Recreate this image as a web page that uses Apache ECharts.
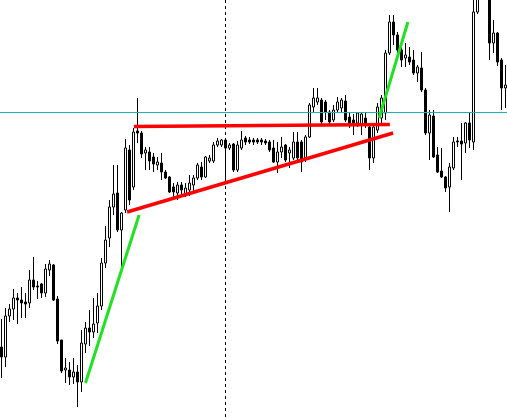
<!DOCTYPE html>
<html>
<head>
<meta charset="utf-8">
<script src="https://cdn.jsdelivr.net/npm/echarts@6/dist/echarts.min.js"></script>
<style>html,body{margin:0;padding:0;background:#fff}#c{width:507px;height:418px}</style>
</head>
<body>
<div id="c"></div>
<script>
// Price levels measured in points below the chart's top reference level (axis is inverted:
// smaller number = higher price). "highs" are the top of the wick, "lows" the bottom.
const opens  = [347,357,316,309,298,300,302,303,280,286,284,293,270,265,299,340,370,370,377,372,
                382,344,328,332,323,306,263,238,207,193,230,210,150,187,131,133,153,152,157,165,
                163,172,177,187,193,185,194,190,185,178,167,177,161,161,145,145,140,148,144,170,
                148,138,140,140,140,140,141,142,148,162,152,145,153,158,142,142,158,137,107,102,
                100,102,112,120,110,108,101,117,120,123,124,118,127,158,130,118,113,53,22,35,
                50,58,57,60,73,68,90,133,116,155,171,177,187,168,141,141,143,123,142,12,
                -20,-50,-15,43,33,60,88];
const closes = [357,316,309,298,300,303,304,280,287,287,293,269,264,300,341,371,368,377,372,382,
                343,328,332,324,306,263,240,207,194,230,213,148,200,132,133,154,150,161,164,162,
                172,178,192,192,185,190,188,183,178,165,177,157,158,145,141,140,148,145,170,145,
                140,142,142,142,142,142,143,150,162,152,147,160,150,142,158,162,137,105,98,98,
                122,112,122,110,102,100,120,123,124,113,114,124,158,127,107,98,53,22,35,50,
                60,55,62,73,67,90,133,115,157,172,177,188,167,142,142,144,123,140,12,-20,
                -50,-20,43,33,62,88,85];
const highs  = [319,308,304,289,293,287,293,270,257,281,283,264,260,264,296,340,358,362,358,365,
                330,322,310,298,293,258,226,200,165,165,212,139,145,128,98,131,147,147,153,157,
                153,170,176,183,182,182,183,175,175,163,162,156,155,142,138,139,138,143,143,141,
                131,136,137,138,138,138,139,140,140,142,137,144,147,132,132,140,135,103,88,88,
                98,100,110,105,97,98,95,112,114,112,112,112,125,123,103,95,50,15,15,32,
                46,43,47,50,65,52,88,110,110,147,148,176,163,137,137,123,122,113,-5,-30,
                -60,-60,-20,20,32,58,65];
const lows   = [378,367,322,320,324,318,318,308,290,299,298,297,276,301,344,373,383,385,384,407,
                392,353,346,338,333,310,268,247,215,232,267,213,205,190,143,158,170,170,172,170,
                180,179,193,198,200,197,197,196,192,180,180,178,163,163,147,147,181,150,172,172,
                150,145,144,145,144,145,145,152,163,173,158,162,168,160,162,172,162,138,112,105,
                124,120,124,122,112,112,122,128,135,127,135,128,170,163,133,125,120,55,45,54,
                67,67,65,75,82,92,135,160,158,173,178,192,212,170,147,180,153,148,150,14,
                -15,-10,60,53,66,110,108];

// Drawn objects: [barIndex, level] end points
const redFlat    = [[33.1, 126.5], [97.1, 124.5]];
const redRising  = [[31.4, 212], [97.9, 133]];
const greenUp1   = [[21.0, 383], [34.4, 215]];
const greenUp2   = [[94.4, 118], [101.6, 22]];
const tealLevel  = 112.5;
const separatorBar = 56;

const chart = echarts.init(document.getElementById('c'), null, {renderer: 'canvas'});
const candleData = opens.map((o, i) => [i, o, closes[i], highs[i], lows[i]]);
const xMin = -0.375, xMax = opens.length - 1 + 0.375;

function seg(pts, color, width) {
  return {
    type: 'line', data: pts, symbol: 'none', silent: true, z: 5,
    lineStyle: {color: color, width: width, cap: 'butt'}, animation: false
  };
}

chart.setOption({
  animation: false,
  backgroundColor: '#ffffff',
  grid: {left: 0, right: 0, top: 0, bottom: 0},
  xAxis: {type: 'value', min: xMin, max: xMax, show: false},
  yAxis: {type: 'value', min: 0, max: 418, inverse: true, show: false},
  series: [
    {
      type: 'candlestick',
      data: candleData,
      encode: {x: 0, y: [1, 2, 3, 4]},
      barWidth: 2,
      clip: true,
      itemStyle: {color: '#000000', color0: '#ffffff', borderColor: '#000000', borderColor0: '#000000', borderWidth: 1},
      markLine: {
        symbol: 'none', silent: true, animation: false,
        label: {show: false},
        lineStyle: {color: '#000000', width: 1, type: [3, 3]},
        data: [{xAxis: separatorBar}]
      },
      z: 2
    },
    seg([[xMin, tealLevel], [xMax, tealLevel]], '#20B2AA', 1),
    seg(redFlat, '#FF0000', 3.5),
    seg(redRising, '#FF0000', 3.5),
    seg(greenUp1, '#22E022', 3),
    seg(greenUp2, '#22E022', 3)
  ]
});
</script>
</body>
</html>
